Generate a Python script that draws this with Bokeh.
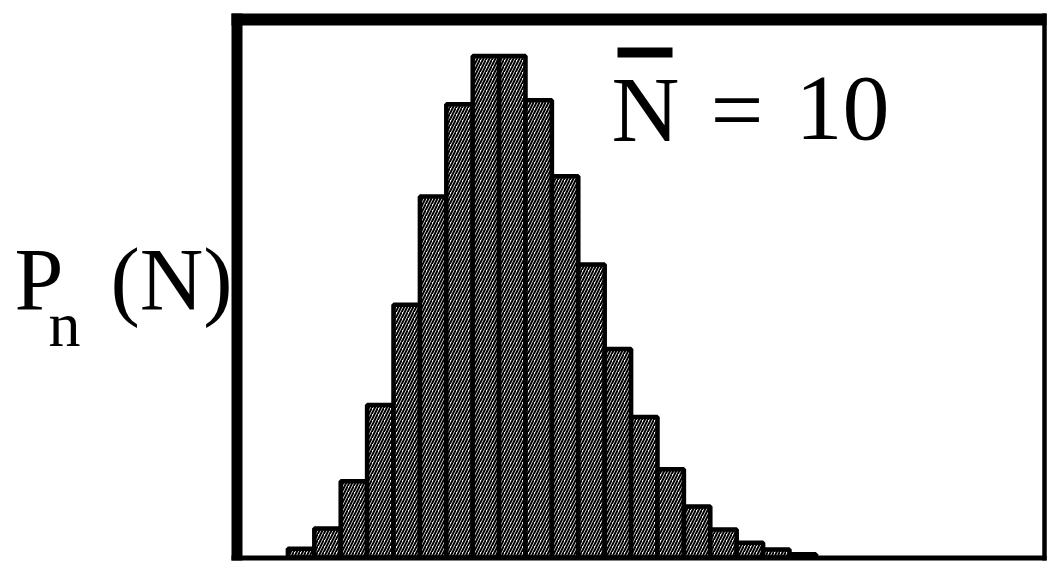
from bokeh.plotting import figure
from bokeh.models import Label, BoxAnnotation, Range1d
from bokeh.embed import file_html
from bokeh.resources import INLINE

# Data: photon number N and probability P_n(N)
N_values = [2, 3, 4, 5, 6, 7, 8, 9, 10, 11, 12, 13, 14, 15, 16, 17, 18, 19, 20, 21]
P_values = [0.0022, 0.0072, 0.019, 0.038, 0.063, 0.090, 0.113, 0.125, 0.125, 0.114,
            0.095, 0.073, 0.052, 0.035, 0.022, 0.0127, 0.007, 0.0037, 0.002, 0.0008]
mean_N = "N"
mean_eq = "="
mean_val = "10"
y_label_main = "P"
y_label_sub = "n"
y_label_arg = "(N)"

W, H = 1048, 562
# page-pixel <-> data mapping (bar N centred at 247.8 + 26.4*N px, P=0 at 557 px)
PX_PER_N = 26.4
N0_PX = 247.8
BASE_PX = 557.0
PX_PER_P = 4012.0
X0 = (0 - N0_PX) / PX_PER_N
X1 = (W - N0_PX) / PX_PER_N
Y1 = (BASE_PX - 0) / PX_PER_P
Y0 = (BASE_PX - H) / PX_PER_P


def dx(px):
    return X0 + px / W * (X1 - X0)


def dy(py):
    return Y1 - py / H * (Y1 - Y0)


def base(py, size):
    # place the text so that its alphabetic baseline lands at page row py
    return dy(py - 0.37 * size)


p = figure(width=W, height=H,
           x_range=Range1d(X0, X1), y_range=Range1d(Y0, Y1),
           x_axis_type=None, y_axis_type=None,
           output_backend="svg", toolbar_location=None,
           min_border=0)
p.xgrid.visible = False
p.ygrid.visible = False
p.background_fill_color = "white"
p.border_fill_color = "white"
p.outline_line_color = None

p.vbar(x=N_values, top=P_values, width=1.0, bottom=0,
       fill_color="white", line_color="black", line_width=4.5,
       hatch_pattern="/", hatch_color="black", hatch_scale=6, hatch_weight=2.0)

# frame box: thick top and left, thinner right and bottom
p.segment(x0=[dx(236.5)], y0=[dy(13)], x1=[dx(236.5)], y1=[dy(560)],
          line_color="black", line_width=11)
p.segment(x0=[dx(231)], y0=[dy(19)], x1=[dx(1046)], y1=[dy(19)],
          line_color="black", line_width=12)
p.segment(x0=[dx(1044)], y0=[dy(13)], x1=[dx(1044)], y1=[dy(560)],
          line_color="black", line_width=4.5)
p.segment(x0=[dx(231)], y0=[dy(557.5)], x1=[dx(1046)], y1=[dy(557.5)],
          line_color="black", line_width=5)

serif = "Liberation Serif"
common = dict(text_font=serif, text_align="left", text_baseline="alphabetic",
              text_color="black")
p.add_layout(Label(x=dx(14), y=base(312, 88), text=y_label_main, text_font_size="88px", **common))
p.add_layout(Label(x=dx(48), y=base(348, 64), text=y_label_sub, text_font_size="64px", **common))
p.add_layout(Label(x=dx(110), y=base(312, 88), text=y_label_arg, text_font_size="88px", **common))

p.add_layout(Label(x=dx(611), y=base(143, 94), text=mean_N, text_font_size="94px", **common))
p.add_layout(Label(x=dx(710), y=base(143, 94), text=mean_eq, text_font_size="94px", **common))
p.add_layout(Label(x=dx(795), y=base(143, 94), text=mean_val, text_font_size="94px", **common))
p.add_layout(BoxAnnotation(left=dx(617), right=dx(672), top=dy(47), bottom=dy(57),
                           fill_color="black", fill_alpha=1.0, line_alpha=0))

open("out.html", "w").write(file_html(p, INLINE))
